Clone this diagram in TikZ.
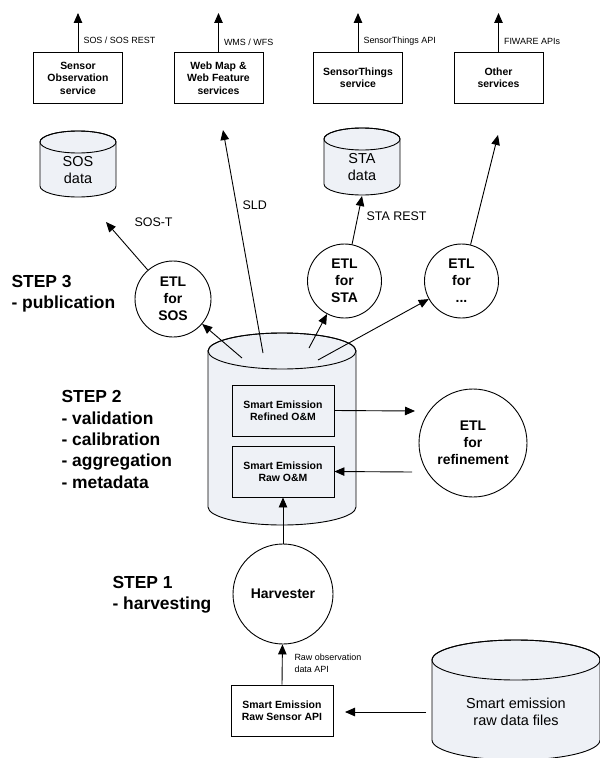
\documentclass[tikz,border=0pt]{standalone}
\usepackage{fontspec}
\setmainfont{Liberation Sans}
\usetikzlibrary{arrows.meta, positioning, calc}

\definecolor{dbfill}{HTML}{EEF1F6}

% data store: centre x, top y, x radius, y radius, bottom y
\newcommand{\datastore}[5]{%
  \filldraw[fill=dbfill, line width=0.9bp] (#1-#3,#2) -- (#1-#3,#5)
    arc[start angle=180, end angle=0, x radius=#3, y radius=#4] -- (#1+#3,#2)
    arc[start angle=0, end angle=-180, x radius=#3, y radius=#4] -- cycle;
  \draw[line width=0.9bp] (#1,#2) ellipse[x radius=#3, y radius=#4];
}

\begin{document}
\begin{tikzpicture}[x=1bp, y=-1bp, >={Triangle[length=10bp, width=8.5bp]},
  svc/.style={draw, line width=1bp, minimum width=89bp, minimum height=51bp,
    align=center, font=\fontsize{10.5}{12.5}\selectfont\bfseries},
  etl/.style={draw, circle, line width=0.9bp, align=center, inner sep=0pt,
    font=\fontsize{14}{17}\selectfont\bfseries},
  flow/.style={->, line width=0.9bp},
  api/.style={font=\fontsize{9}{12}\selectfont, align=left, anchor=west},
  tag/.style={font=\fontsize{12.5}{15}\selectfont, anchor=west},
  dbtext/.style={font=\fontsize{14.5}{17.5}\selectfont, align=center},
  stepnote/.style={font=\fontsize{17.5}{21.5}\selectfont\bfseries, align=left, anchor=west}]
  \useasboundingbox (0,0) rectangle (600,758);

  % services on top
  \node[svc] (sos) at (78,78) {Sensor\\Observation\\service};
  \node[svc] (wms) at (218.5,78) {Web Map \&\\Web Feature\\services};
  \node[svc] (sts) at (358,78) {SensorThings\\service};
  \node[svc] (oth) at (498.5,78) {Other\\services};
  \coordinate (sosup) at (78,13);
  \coordinate (wmsup) at (218.5,13);
  \coordinate (stsup) at (358,13);
  \coordinate (othup) at (498.5,13);
  \draw[flow] (sos.north) -- (sosup);
  \draw[flow] (wms.north) -- (wmsup);
  \draw[flow] (sts.north) -- (stsup);
  \draw[flow] (oth.north) -- (othup);
  \node[api] (sosapi) at (80,40) {SOS / SOS REST};
  \node[api] (wmsapi) at (220.5,42) {WMS / WFS};
  \node[api] (stsapi) at (360,41) {SensorThings API};
  \node[api] (othapi) at (500.5,41) {FIWARE APIs};

  % data stores
  \datastore{78}{142}{38}{11}{186}
  \node[dbtext] (sosdb) at (78,170) {SOS\\data};
  \datastore{362}{139}{38}{11}{184}
  \node[dbtext] (stadb) at (362,167) {STA\\data};
  \datastore{282}{351}{74}{18}{507}
  \node[svc, minimum width=102bp, line width=0.9bp] (refined) at (283,410.5) {Smart Emission\\Refined O\&M};
  \node[svc, minimum width=102bp, line width=0.9bp] (raw) at (283,471.5) {Smart Emission\\Raw O\&M};
  \datastore{516}{660}{84}{20}{740}
  \node[dbtext] (files) at (516,712) {Smart emission\\raw data files};

  % ETL steps
  \node[etl, minimum size=76bp] (etlsos) at (173,299) {ETL\\for\\SOS};
  \node[etl, minimum size=74bp] (etlsta) at (344.5,281) {ETL\\for\\STA};
  \node[etl, minimum size=74bp] (etlx) at (461.5,281) {ETL\\for\\...};
  \node[etl, minimum size=108bp] (refine) at (473,443) {ETL\\for\\refinement};
  \node[etl, minimum size=100bp] (harv) at (283,594) {Harvester};
  \node[svc, minimum width=102bp] (rawapi) at (282,710.5) {Smart Emission\\Raw Sensor API};

  % publication flows
  \coordinate (outsos) at (242,358);
  \coordinate (outsld) at (263,353);
  \coordinate (outsta) at (309,348);
  \coordinate (outx) at (318,360);
  \coordinate (sostip) at (106,222);
  \coordinate (sldtip) at (223,130);
  \coordinate (statip) at (362,196);
  \coordinate (xtip) at (498,135);
  \draw[flow] (outsos) -- (etlsos);
  \draw[flow] (outsta) -- (etlsta);
  \draw[flow] (outx) -- (etlx);
  \draw[flow] (outsld) -- (sldtip);
  \draw[flow] (etlsos) -- (sostip);
  \draw[flow] (etlsta) -- (statip);
  \draw[flow] (etlx) -- (xtip);
  \node[tag] (sost) at (131,222) {SOS-T};
  \node[tag] (sld) at (239,205) {SLD};
  \node[tag] (starest) at (363,216) {STA REST};

  % refinement loop
  \coordinate (refin) at (415,411);
  \coordinate (refout) at (412,472);
  \draw[flow] (refined.east) -- (refin);
  \draw[flow] (refout) -- (raw.east);

  % harvesting
  \coordinate (fileout) at (426,712);
  \coordinate (apiin) at (345,712);
  \draw[flow] (harv) -- (raw);
  \draw[flow] (rawapi.north) -- (harv);
  \draw[flow] (fileout) -- (apiin);
  \node[api] (rawobs) at (291,663) {Raw observation\\data API};

  % step notes
  \node[stepnote] (step3) at (8,294) {STEP 3\\- publication};
  \node[stepnote] (step2) at (58,439.5) {STEP 2\\- validation\\- calibration\\- aggregation\\- metadata};
  \node[stepnote] (step1) at (109,595) {STEP 1\\- harvesting};
\end{tikzpicture}
\end{document}
